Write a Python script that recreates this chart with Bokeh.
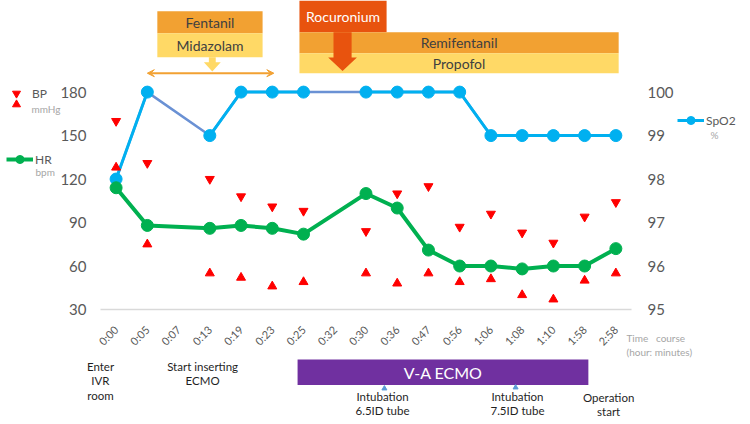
import math
from bokeh.plotting import figure
from bokeh.models import (Range1d, LinearAxis, FixedTicker, Label,
                          Legend, LegendItem, Arrow, VeeHead)
from bokeh.core.properties import value
from bokeh.embed import file_html
from bokeh.resources import INLINE

nan = float("nan")

# ---- data -------------------------------------------------------------
times = ["0:00", "0:05", "0:07", "0:13", "0:19", "0:23", "0:25", "0:32", "0:30",
         "0:36", "0:47", "0:56", "1:06", "1:08", "1:10", "1:58", "2:58"]
spo2 = [98, 100, nan, 99, 100, 100, 100, nan, 100, 100, 100, 100, 99, 99, 99, 99, 99]
hr = [114, 88, nan, 86, 88, 86, 82, nan, 110, 100, 71, 60, 60, 58, 60, 60, 72]
bp_sys = [160, 131, nan, 120, 108, 101, 98, nan, 84, 110, 115, 87, 96, 83, 76, 94, 104]
bp_dia = [128, 75, nan, 55, 52, 46, 49, nan, 55, 48, 55, 49, 51, 40, 37, 50, 55]
left_ticks = [30, 60, 90, 120, 150, 180]
right_ticks = [95, 96, 97, 98, 99, 100]
drug_names = ["Fentanil", "Midazolam", "Rocuronium", "Remifentanil", "Propofol"]

# ---- layout: the frame covers the whole page, axes sit at fixed spots --
W, H = 750, 424
X0_PX, STEP_PX = 115.6, 31.235       # pixel column of the first time slot, slot width
BOT_PX, TOP_PX = 309.0, 91.6         # pixel rows of the 30/95 and 180/100 ticks
FONT = "Lato"
GREY = "#595959"
LIGHT = "#A6A6A6"

n = len(times)
xs = list(range(n))

x_lo = -X0_PX / STEP_PX
x_hi = (W - X0_PX) / STEP_PX
scale = (BOT_PX - TOP_PX) / (left_ticks[-1] - left_ticks[0])
y_lo = left_ticks[0] - (H - BOT_PX) / scale
y_hi = left_ticks[0] + BOT_PX / scale
r_scale = (BOT_PX - TOP_PX) / (right_ticks[-1] - right_ticks[0])
r_lo = right_ticks[0] - (H - BOT_PX) / r_scale
r_hi = right_ticks[0] + BOT_PX / r_scale

p = figure(width=W, height=H, output_backend="svg", toolbar_location=None,
           x_range=Range1d(x_lo, x_hi), y_range=Range1d(y_lo, y_hi),
           x_axis_location=None, y_axis_location=None, min_border=0)
p.outline_line_color = None
p.grid.visible = False
p.background_fill_color = "white"
p.border_fill_color = "white"

p.extra_y_ranges = {"spo2": Range1d(r_lo, r_hi),
                    "py": Range1d(H, 0)}      # pixel rows, for page furniture

def style_axis(ax, size, standoff):
    ax.major_tick_line_color = None
    ax.minor_tick_line_color = None
    ax.major_tick_out = 0
    ax.major_tick_in = 0
    ax.minor_tick_out = 0
    ax.major_label_text_font = FONT
    ax.major_label_text_font_size = size
    ax.major_label_text_color = GREY
    ax.major_label_standoff = standoff

# time axis
xa = LinearAxis(ticker=FixedTicker(ticks=xs), fixed_location=left_ticks[0],
                bounds=(-0.5, n - 0.5))
xa.major_label_overrides = {i: t for i, t in enumerate(times)}
xa.major_label_orientation = math.pi / 4
xa.axis_line_color = "#D9D9D9"
xa.axis_line_width = 1.5
style_axis(xa, "11px", 18)
p.add_layout(xa, "below")

# left axis (BP / HR)
ya = LinearAxis(ticker=FixedTicker(ticks=left_ticks), fixed_location=-0.5)
ya.axis_line_color = None
style_axis(ya, "15px", 14)
p.add_layout(ya, "left")

# right axis (SpO2)
ra = LinearAxis(y_range_name="spo2", ticker=FixedTicker(ticks=right_ticks),
                fixed_location=n - 0.5)
ra.axis_line_color = None
style_axis(ra, "15px", 16)
p.add_layout(ra, "right")

# ---- series -----------------------------------------------------------
def valid(vals):
    pts = [(x, v) for x, v in zip(xs, vals) if not math.isnan(v)]
    return [a for a, _ in pts], [b for _, b in pts]

SPO2_C, SPO2_GAP, HR_C, BP_C = "#00B0F0", "#6A91D4", "#00B050", "#FF0000"

sx, sy = valid(spo2)
p.line(sx, sy, y_range_name="spo2", line_color=SPO2_GAP, line_width=2.5)
spo2_line = p.line(xs, spo2, y_range_name="spo2", line_color=SPO2_C, line_width=3)
spo2_dots = p.scatter(sx, sy, y_range_name="spo2", size=12, color=SPO2_C)

hx, hy = valid(hr)
hr_line = p.line(hx, hy, line_color=HR_C, line_width=4)
hr_dots = p.scatter(hx, hy, size=12, color=HR_C)

bx, by = valid(bp_sys)
sys_r = p.scatter(bx, by, marker="inverted_triangle", size=9, color=BP_C)
dx, dy = valid(bp_dia)
dia_r = p.scatter(dx, dy, marker="triangle", size=9, color=BP_C)

# ---- drug bars above the plot (x: time slot, y: pixel rows) -----------
ORANGE, YELLOW, RED = "#F2A132", "#FFD966", "#E8530E"
bars_left = [1.32, 1.32, 5.87, 5.87, 5.87]
bars_right = [4.69, 4.69, 8.66, 16.09, 16.09]
bars_top = [10.7, 32.7, 0, 31.7, 52.7]
bars_bottom = [32.7, 56.7, 31.7, 52.7, 72.7]
bars_fill = [ORANGE, YELLOW, RED, ORANGE, YELLOW]
bars_text = ["#404040", "#404040", "white", "#404040", "#404040"]
bars_text_y = [21.7, 44.7, 15.5, 42.2, 62.7]

p.quad(left=bars_left, right=bars_right, top=bars_top, bottom=bars_bottom,
       y_range_name="py", fill_color=bars_fill, line_color=None)

# yellow block arrow below Midazolam
ax0 = 3.08
p.patch([ax0 - 0.11, ax0 + 0.11, ax0 + 0.11, ax0 + 0.27, ax0, ax0 - 0.27, ax0 - 0.11],
        [56.7, 56.7, 61.7, 61.7, 71, 61.7, 61.7],
        y_range_name="py", fill_color=YELLOW, line_color=None)
# red block arrow from Rocuronium
rx0 = 7.25
p.patch([rx0 - 0.29, rx0 + 0.29, rx0 + 0.29, rx0 + 0.46, rx0, rx0 - 0.46, rx0 - 0.29],
        [31.7, 31.7, 57, 57, 70.5, 57, 57],
        y_range_name="py", fill_color=RED, line_color=None)

p.text(x=[(l + r) / 2 for l, r in zip(bars_left, bars_right)], y=bars_text_y,
       text=drug_names, y_range_name="py", text_align="center", text_baseline="middle",
       text_font=value(FONT), text_font_size="14px", text_color=bars_text)

# double-headed arrow for the sedation window
p.add_layout(Arrow(x_start=1.0, x_end=5.05, y_start=72.7, y_end=72.7, y_range_name="py",
                   line_color=ORANGE, line_width=2,
                   start=VeeHead(size=7, fill_color=ORANGE, line_color=ORANGE),
                   end=VeeHead(size=7, fill_color=ORANGE, line_color=ORANGE)))

# ---- annotations below the time axis ----------------------------------
p.quad(left=[5.81], right=[15.12], top=[359], bottom=[384.5], y_range_name="py",
       fill_color="#7030A0", line_color=None)
p.text(x=[10.47], y=[372], text=["V-A ECMO"], y_range_name="py", text_align="center",
       text_baseline="middle", text_color="white", text_font=value(FONT),
       text_font_size="16px")

events = [
    (-0.5, 359, "Enter\nIVR\nroom"),
    (2.77, 359, "Start inserting\nECMO"),
    (8.53, 389, "Intubation\n6.5ID tube"),
    (12.85, 389, "Intubation\n7.5ID tube"),
    (15.77, 390, "Operation\nstart"),
]
for ex, ey, txt in events:
    p.add_layout(Label(x=ex, y=H - ey, y_units="screen", text=txt,
                       text_align="center", text_baseline="top", text_color="#1F1F1F",
                       text_font=FONT, text_font_size="11.5px", text_line_height=1.12))
p.scatter([8.59, 12.79], [388, 387], y_range_name="py", marker="triangle", size=5,
          color="#5B9BD5")

p.add_layout(Label(x=16.34, y=H - 331, y_units="screen",
                   text="Time\u00a0\u00a0\u00a0course\n(hour: minutes)", text_align="left",
                   text_baseline="top", text_color=LIGHT, text_font=FONT,
                   text_font_size="10px", text_line_height=1.2))

# ---- legends ----------------------------------------------------------
def legend(items, left_px, center_py, gw, gh=20, standoff=4):
    lg = Legend(items=items, location=(left_px, H - (center_py + gh / 2)),
                glyph_width=gw, glyph_height=gh, label_height=gh, padding=0, margin=0,
                spacing=0, label_standoff=standoff, border_line_color=None,
                background_fill_alpha=0, label_text_font=FONT,
                label_text_font_size="12px", label_text_color=GREY)
    p.add_layout(lg)

legend([LegendItem(label="BP", renderers=[sys_r])], 6, 93, 20, standoff=6)
legend([LegendItem(label=" ", renderers=[dia_r])], 6, 104, 20)
legend([LegendItem(label="HR", renderers=[hr_line, hr_dots])], 6, 159, 27, standoff=2)
legend([LegendItem(label="SpO2", renderers=[spo2_line, spo2_dots])], 677, 120, 27, standoff=2)

for tx, ty, txt in [(31, 108, "mmHg"), (35, 171, "bpm"), (710, 134, "%")]:
    p.add_layout(Label(x=tx, y=H - ty, x_units="screen", y_units="screen", text=txt,
                       text_align="left", text_baseline="middle", text_color=LIGHT,
                       text_font=FONT, text_font_size="10px"))

with open("out.html", "w") as f:
    f.write(file_html(p, INLINE))
